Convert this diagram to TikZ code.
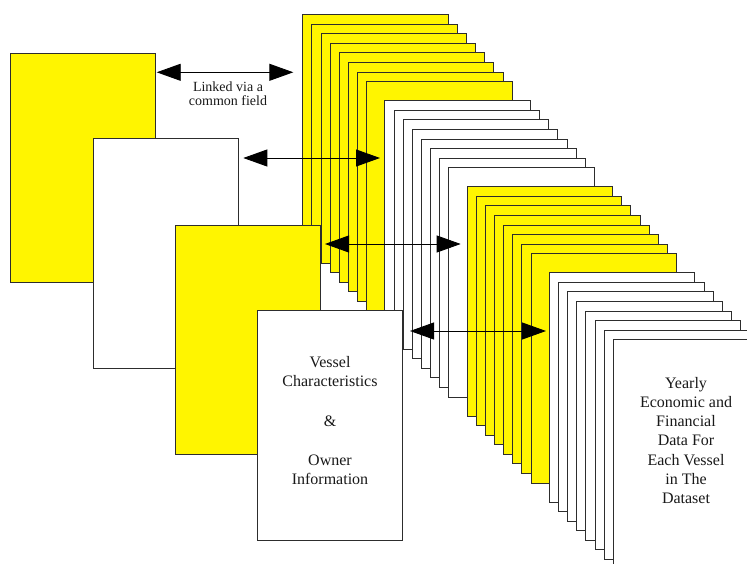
\documentclass[tikz,border=0pt]{standalone}
\usepackage{fontspec}
\setmainfont{Liberation Serif}
\usetikzlibrary{arrows.meta}
\definecolor{pageyellow}{RGB}{255,245,0}
\definecolor{pageline}{RGB}{45,45,45}
\begin{document}
\begin{tikzpicture}[x=1pt,y=-1pt,
  page/.style={draw=pageline, line width=0.9pt, rectangle, inner sep=0pt, outer sep=0pt,
    minimum width=145.5pt, minimum height=229.3pt, anchor=north west},
  ypage/.style={page, fill=pageyellow},
  wpage/.style={page, fill=white},
  link/.style={line width=0.9pt, black,
    {Triangle[length=24pt,width=17pt]}-{Triangle[length=24pt,width=17pt]}},
  bigtext/.style={font=\fontsize{16}{19.6}\selectfont, align=center, inner sep=0pt, text=black!90},
  smalltext/.style={font=\fontsize{14}{14}\selectfont, align=center, inner sep=0pt, text=black!90}
]
\clip (0,0) rectangle (747,564);
\fill[white] (0,0) rectangle (747,564);
% right stack of yearly pages
\foreach \i in {0,...,7}   {\node[ypage] (r\i) at ({302.7+9.135*\i},{14.7+9.56*\i}) {};}
\foreach \i in {9,...,16}  {\node[wpage] (r\i) at ({302.7+9.135*\i},{14.7+9.56*\i}) {};}
\foreach \i in {18,...,25} {\node[ypage] (r\i) at ({302.7+9.135*\i},{14.7+9.56*\i}) {};}
\foreach \i in {27,...,34} {\node[wpage] (r\i) at ({302.7+9.135*\i},{14.7+9.56*\i}) {};}
% left stack
\node[ypage] (pA) at (10,53) {};
\node[wpage] (pB) at (93,138.7) {};
\node[ypage] (pC) at (175,225) {};
\node[wpage] (pD) at (257,310.7) {};
% link arrows
\coordinate (a1l) at (156.7,72.3);
\coordinate (a1r) at (293.3,72.3);
\coordinate (a2l) at (243.3,158);
\coordinate (a2r) at (380,158);
\coordinate (a3l) at (325,244);
\coordinate (a3r) at (460.7,244);
\coordinate (a4l) at (410,331);
\coordinate (a4r) at (546,331);
\draw[link] (a1l) -- (a1r);
\draw[link] (a2l) -- (a2r);
\draw[link] (a3l) -- (a3r);
\draw[link] (a4l) -- (a4r);
% texts
\node[smalltext] (lk) at (228,94) {Linked via a\\common field};
\node[bigtext] (vc) at (330,420.7) {Vessel\\Characteristics\\[19.6pt]\&\\[19.6pt]Owner\\Information};
\node[bigtext, font=\fontsize{16}{19.2}\selectfont] (yd) at (686,440.5) {Yearly\\Economic and\\Financial\\Data For\\Each Vessel\\in The\\Dataset};
\end{tikzpicture}
\end{document}
